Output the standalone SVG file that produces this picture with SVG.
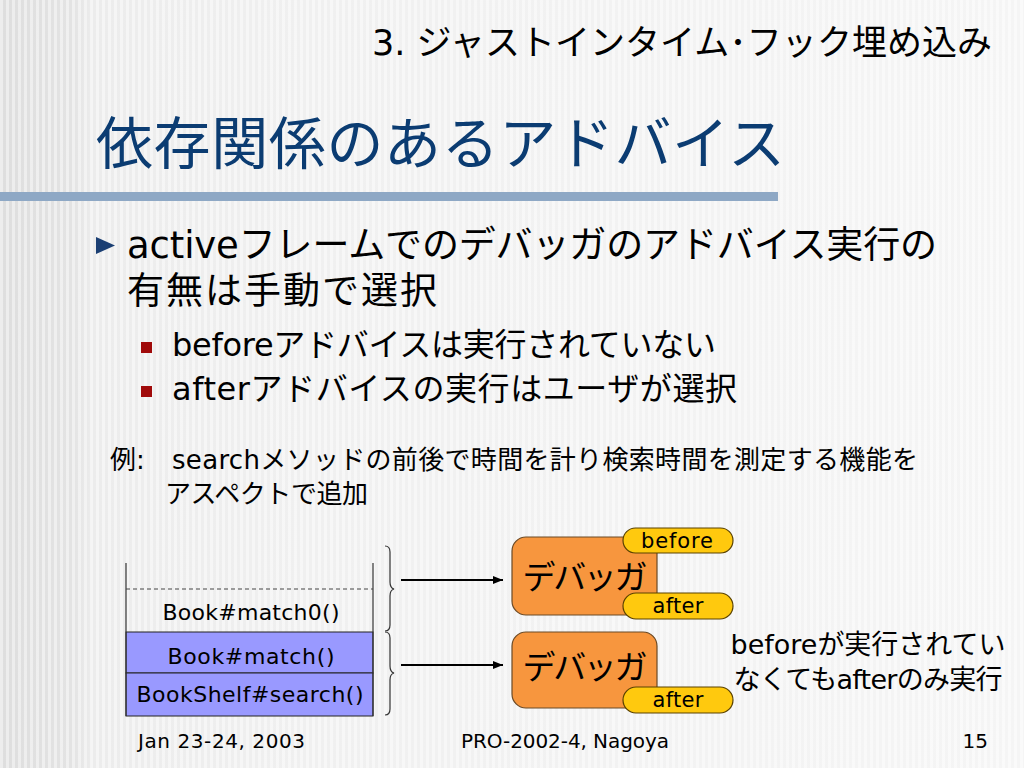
<svg xmlns="http://www.w3.org/2000/svg" width="1024" height="768" viewBox="0 0 1024 768">
<defs>
<linearGradient id="bg" x1="0" y1="0" x2="1" y2="0">
<stop offset="0" stop-color="#dedede"/>
<stop offset="0.07" stop-color="#e3e3e3"/>
<stop offset="0.09" stop-color="#ececec"/>
<stop offset="0.3" stop-color="#f0f0f0"/>
<stop offset="1" stop-color="#f5f5f5"/>
</linearGradient>
<pattern id="stripes" x="0" y="0" width="6" height="10" patternUnits="userSpaceOnUse">
<rect x="0" y="0" width="3" height="10" fill="#ffffff" fill-opacity="0.45"/>
</pattern>
<marker id="arr" viewBox="0 0 10 10" refX="10" refY="5" markerWidth="5" markerHeight="5" markerUnits="strokeWidth" orient="auto">
<path d="M0,1 L10,5 L0,9 z" fill="#000"/>
</marker>
<style>
.jp{font-family:"DejaVu Sans","Noto Sans CJK JP",sans-serif;fill:#000}
.ttl{font-family:"Noto Sans CJK JP","DejaVu Sans",sans-serif;fill:#0b3c72;font-size:57px}
.stk{font-family:"DejaVu Sans",sans-serif;font-size:22px;fill:#000;text-anchor:middle}
.dbg{fill:#f7963e;stroke:#6b4a26;stroke-width:1.2}
.pill{fill:#ffc90e;stroke:#5a4200;stroke-width:1.2}
.pt{font-family:"DejaVu Sans",sans-serif;font-size:21px;fill:#000;text-anchor:middle}
.ft{font-family:"DejaVu Sans",sans-serif;font-size:20px;fill:#000}
</style>
</defs>
<rect width="1024" height="768" fill="url(#bg)"/>
<rect width="1024" height="768" fill="url(#stripes)"/>

<g id="header">
<text class="jp" x="992" y="55" font-size="35" text-anchor="end" textLength="620">3. ジャストインタイム･フック埋め込み</text>
</g>
<g id="title">
<text class="ttl" x="96" y="164" textLength="689">依存関係のあるアドバイス</text>
<rect x="0" y="192" width="778" height="9" fill="#8ea8c5"/>
</g>

<g id="bullets">
<polygon points="96,237 115,245.5 96,254" fill="#1b3f73"/>
<text class="jp" x="127" y="258" font-size="37" textLength="810">activeフレームでのデバッガのアドバイス実行の</text>
<text class="jp" x="127" y="304" font-size="37" textLength="310">有無は手動で選択</text>
<rect x="141" y="342" width="11" height="11" fill="#a00a0a"/>
<text class="jp" x="172" y="356" font-size="32" textLength="544">beforeアドバイスは実行されていない</text>
<rect x="141" y="386" width="11" height="11" fill="#a00a0a"/>
<text class="jp" x="172" y="400" font-size="32" textLength="565">afterアドバイスの実行はユーザが選択</text>
</g>

<g id="example">
<text class="jp" x="110" y="469" font-size="26">例:</text>
<text class="jp" x="172" y="469" font-size="26" textLength="746">searchメソッドの前後で時間を計り検索時間を測定する機能を</text>
<text class="jp" x="165" y="503" font-size="26" textLength="203">アスペクトで追加</text>
</g>

<g id="stack">
<rect x="126" y="632" width="247" height="41" fill="#9999ff" stroke="#222" stroke-width="1"/>
<rect x="126" y="673" width="247" height="43" fill="#9999ff" stroke="#222" stroke-width="1"/>
<line x1="126" y1="563" x2="126" y2="716" stroke="#333" stroke-width="1.2"/>
<line x1="373" y1="563" x2="373" y2="716" stroke="#333" stroke-width="1.2"/>
<line x1="126" y1="589" x2="373" y2="589" stroke="#444" stroke-width="1" stroke-dasharray="4,3"/>
<text class="stk" x="251" y="620" textLength="177">Book#match0()</text>
<text class="stk" x="251" y="664" textLength="167">Book#match()</text>
<text class="stk" x="250" y="702" textLength="227">BookShelf#search()</text>
</g>

<g id="braces" fill="none" stroke="#333" stroke-width="1.2">
<path d="M385,546 Q390,546 390,552 L390,582 Q390,588 394,589 Q390,590 390,596 L390,625 Q390,631 385,631"/>
<path d="M385,632 Q390,632 390,638 L390,666 Q390,672 394,673 Q390,674 390,680 L390,709 Q390,715 385,715"/>
</g>

<g id="connectors">
<line x1="401" y1="580" x2="503" y2="580" stroke="#000" stroke-width="2" marker-end="url(#arr)"/>
<line x1="401" y1="665" x2="503" y2="665" stroke="#000" stroke-width="2" marker-end="url(#arr)"/>
</g>

<g id="debugger1">
<rect class="dbg" x="512" y="537" width="145" height="78" rx="14"/>
<text class="jp" x="585" y="589" font-size="33" text-anchor="middle" textLength="125">デバッガ</text>
</g>
<g id="before1">
<rect class="pill" x="623" y="528" width="110" height="25" rx="12.5"/>
<text class="pt" x="677" y="548" textLength="72">before</text>
</g>
<g id="after1">
<rect class="pill" x="623" y="593" width="110" height="26" rx="13"/>
<text class="pt" x="678" y="613" textLength="51">after</text>
</g>

<g id="debugger2">
<rect class="dbg" x="512" y="632" width="145" height="76" rx="14"/>
<text class="jp" x="585" y="679" font-size="33" text-anchor="middle" textLength="125">デバッガ</text>
</g>
<g id="after2">
<rect class="pill" x="623" y="687" width="110" height="26" rx="13"/>
<text class="pt" x="678" y="707" textLength="51">after</text>
</g>

<g id="note">
<text class="jp" x="868" y="654" font-size="27" text-anchor="middle" textLength="275">beforeが実行されてい</text>
<text class="jp" x="868" y="689" font-size="27" text-anchor="middle" textLength="269">なくてもafterのみ実行</text>
</g>

<g id="footer">
<text class="ft" x="138" y="748" textLength="167">Jan 23-24, 2003</text>
<text class="ft" x="565" y="748" text-anchor="middle" textLength="208">PRO-2002-4, Nagoya</text>
<text class="ft" x="988" y="748" text-anchor="end">15</text>
</g>
</svg>
